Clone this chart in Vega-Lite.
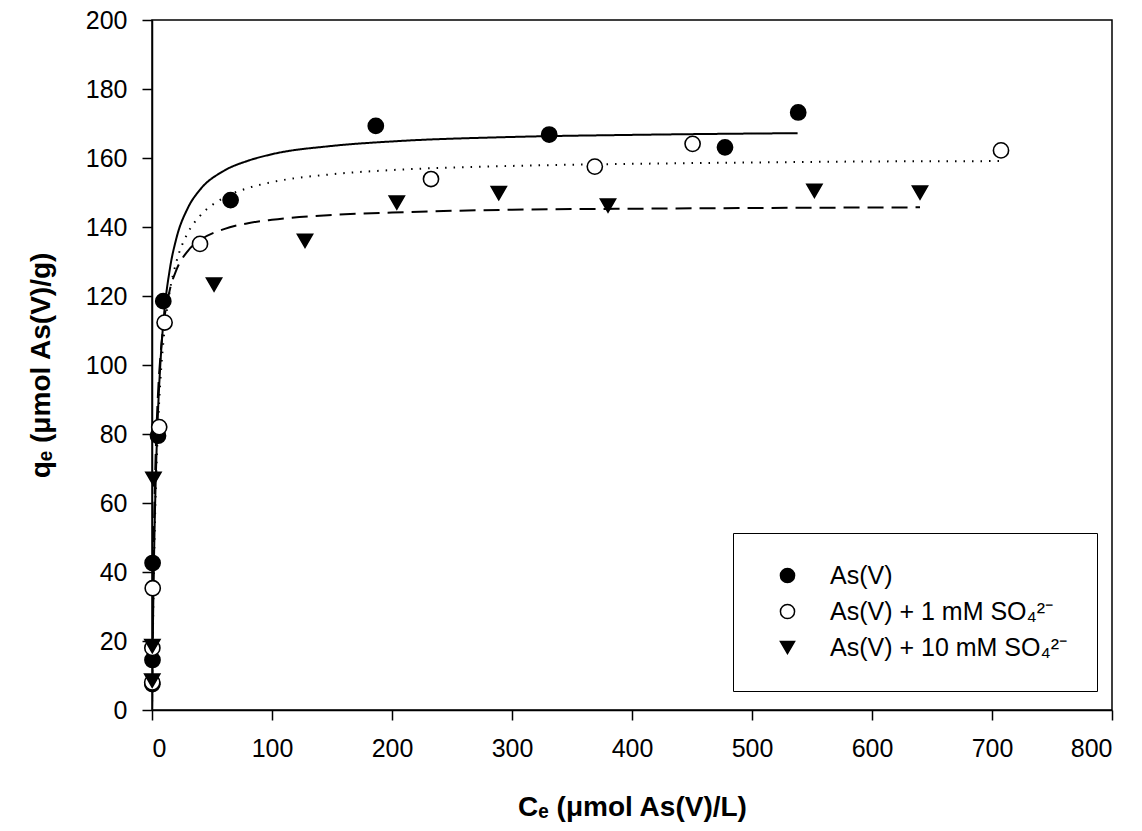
{
  "$schema": "https://vega.github.io/schema/vega-lite/v6.json",
  "autosize": {"type": "none"},
  "padding": {"left": 152, "top": 20, "right": 30, "bottom": 121},
  "width": 960,
  "height": 690,
  "background": "white",
  "config": {
    "font": "Liberation Sans",
    "view": {"stroke": "black", "strokeWidth": 1.5},
    "axis": {
      "domainColor": "black", "domainWidth": 1.5,
      "tickColor": "black", "tickWidth": 1.5, "tickSize": 10,
      "labelColor": "black", "labelFont": "Liberation Sans", "labelFontSize": 25,
      "titleColor": "black", "titleFont": "Liberation Sans", "titleFontSize": 28, "titleFontWeight": "bold",
      "grid": false
    },
    "legend": {
      "orient": "none", "legendX": 581, "legendY": 513,
      "strokeColor": "black", "fillColor": "white", "padding": 30,
      "labelFontSize": 25, "labelFont": "Liberation Sans", "labelColor": "black",
      "symbolSize": 200, "symbolStrokeWidth": 1.5,
      "rowPadding": 10, "labelOffset": 30, "symbolOffset": 12, "labelLimit": 400
    }
  },
  "datasets": {
    "points": [
      {"series": "As(V)", "C": 0.3, "q": 7.5},
      {"series": "As(V)", "C": 0.4, "q": 14.5},
      {"series": "As(V)", "C": 0.5, "q": 42.6},
      {"series": "As(V)", "C": 5, "q": 79.5},
      {"series": "As(V)", "C": 9.4, "q": 118.5},
      {"series": "As(V)", "C": 65.5, "q": 147.8},
      {"series": "As(V)", "C": 186.5, "q": 169.3},
      {"series": "As(V)", "C": 331, "q": 166.8},
      {"series": "As(V)", "C": 477.5, "q": 163.1},
      {"series": "As(V)", "C": 538.5, "q": 173.2},
      {"series": "As(V) + 1 mM SO₄²⁻", "C": 0.2, "q": 8},
      {"series": "As(V) + 1 mM SO₄²⁻", "C": 0.3, "q": 18},
      {"series": "As(V) + 1 mM SO₄²⁻", "C": 0.6, "q": 35.3},
      {"series": "As(V) + 1 mM SO₄²⁻", "C": 6, "q": 82},
      {"series": "As(V) + 1 mM SO₄²⁻", "C": 10.5, "q": 112.3},
      {"series": "As(V) + 1 mM SO₄²⁻", "C": 40, "q": 135.1},
      {"series": "As(V) + 1 mM SO₄²⁻", "C": 232.5, "q": 153.9},
      {"series": "As(V) + 1 mM SO₄²⁻", "C": 369, "q": 157.5},
      {"series": "As(V) + 1 mM SO₄²⁻", "C": 450.5, "q": 164.1},
      {"series": "As(V) + 1 mM SO₄²⁻", "C": 707.5, "q": 162.2},
      {"series": "As(V) + 10 mM SO₄²⁻", "C": 0.2, "q": 8.5},
      {"series": "As(V) + 10 mM SO₄²⁻", "C": 0.3, "q": 18.5},
      {"series": "As(V) + 10 mM SO₄²⁻", "C": 1.2, "q": 67},
      {"series": "As(V) + 10 mM SO₄²⁻", "C": 51.7, "q": 123.3},
      {"series": "As(V) + 10 mM SO₄²⁻", "C": 127.5, "q": 136},
      {"series": "As(V) + 10 mM SO₄²⁻", "C": 204, "q": 147.1},
      {"series": "As(V) + 10 mM SO₄²⁻", "C": 289, "q": 149.8},
      {"series": "As(V) + 10 mM SO₄²⁻", "C": 380, "q": 146.2},
      {"series": "As(V) + 10 mM SO₄²⁻", "C": 552, "q": 150.5},
      {"series": "As(V) + 10 mM SO₄²⁻", "C": 640, "q": 150}
    ],
    "curves": [
      {"fit": "A", "C": 0, "q": 0},
      {"fit": "A", "C": 0.5, "q": 16.1},
      {"fit": "A", "C": 1, "q": 29.3},
      {"fit": "A", "C": 2, "q": 50.0},
      {"fit": "A", "C": 3, "q": 65.3},
      {"fit": "A", "C": 5, "q": 86.5},
      {"fit": "A", "C": 7, "q": 100.5},
      {"fit": "A", "C": 10, "q": 114.4},
      {"fit": "A", "C": 15, "q": 128.1},
      {"fit": "A", "C": 20, "q": 136.3},
      {"fit": "A", "C": 30, "q": 145.6},
      {"fit": "A", "C": 40, "q": 150.8},
      {"fit": "A", "C": 60, "q": 156.3},
      {"fit": "A", "C": 80, "q": 159.2},
      {"fit": "A", "C": 100, "q": 161.1},
      {"fit": "A", "C": 150, "q": 163.5},
      {"fit": "A", "C": 200, "q": 164.8},
      {"fit": "A", "C": 300, "q": 166.1},
      {"fit": "A", "C": 400, "q": 166.7},
      {"fit": "A", "C": 538, "q": 167.2},
      {"fit": "B", "C": 0, "q": 0},
      {"fit": "B", "C": 0.5, "q": 15.3},
      {"fit": "B", "C": 1, "q": 27.9},
      {"fit": "B", "C": 2, "q": 47.6},
      {"fit": "B", "C": 3, "q": 62.1},
      {"fit": "B", "C": 5, "q": 82.3},
      {"fit": "B", "C": 7, "q": 95.6},
      {"fit": "B", "C": 10, "q": 108.7},
      {"fit": "B", "C": 15, "q": 121.8},
      {"fit": "B", "C": 20, "q": 129.5},
      {"fit": "B", "C": 30, "q": 138.4},
      {"fit": "B", "C": 40, "q": 143.2},
      {"fit": "B", "C": 60, "q": 148.5},
      {"fit": "B", "C": 80, "q": 151.3},
      {"fit": "B", "C": 100, "q": 153.0},
      {"fit": "B", "C": 150, "q": 155.3},
      {"fit": "B", "C": 200, "q": 156.5},
      {"fit": "B", "C": 300, "q": 157.7},
      {"fit": "B", "C": 400, "q": 158.3},
      {"fit": "B", "C": 500, "q": 158.7},
      {"fit": "B", "C": 600, "q": 159.0},
      {"fit": "B", "C": 707, "q": 159.1},
      {"fit": "C", "C": 0, "q": 0},
      {"fit": "C", "C": 0.5, "q": 21.0},
      {"fit": "C", "C": 1, "q": 36.7},
      {"fit": "C", "C": 2, "q": 58.6},
      {"fit": "C", "C": 3, "q": 73.3},
      {"fit": "C", "C": 5, "q": 91.6},
      {"fit": "C", "C": 7, "q": 102.5},
      {"fit": "C", "C": 10, "q": 112.7},
      {"fit": "C", "C": 15, "q": 122.0},
      {"fit": "C", "C": 20, "q": 127.3},
      {"fit": "C", "C": 30, "q": 133.1},
      {"fit": "C", "C": 40, "q": 136.2},
      {"fit": "C", "C": 60, "q": 139.4},
      {"fit": "C", "C": 80, "q": 141.1},
      {"fit": "C", "C": 100, "q": 142.1},
      {"fit": "C", "C": 150, "q": 143.5},
      {"fit": "C", "C": 200, "q": 144.2},
      {"fit": "C", "C": 300, "q": 145.0},
      {"fit": "C", "C": 400, "q": 145.3},
      {"fit": "C", "C": 500, "q": 145.5},
      {"fit": "C", "C": 640, "q": 145.7}
    ]
  },
  "encoding": {
    "x": {
      "field": "C", "type": "quantitative",
      "scale": {"domain": [0, 800], "nice": false, "zero": false},
      "axis": {"values": [0, 100, 200, 300, 400, 500, 600, 700, 800], "format": "d", "labelPadding": 16, "titlePadding": 32, "title": "Cₑ (μmol As(V)/L)"}
    },
    "y": {
      "field": "q", "type": "quantitative",
      "scale": {"domain": [0, 200], "nice": false},
      "axis": {"values": [0, 20, 40, 60, 80, 100, 120, 140, 160, 180, 200], "format": "d", "labelPadding": 15, "titlePadding": 30, "title": "qₑ (μmol As(V)/g)"}
    }
  },
  "layer": [
    {
      "data": {"name": "curves"},
      "mark": {"type": "line", "color": "black", "strokeWidth": 2, "interpolate": "monotone", "clip": true},
      "encoding": {
        "strokeDash": {
          "field": "fit", "type": "nominal",
          "scale": {"domain": ["A", "B", "C"], "range": [[1, 0], [1.5, 7], [16, 8]]},
          "legend": null
        }
      }
    },
    {
      "data": {"name": "points"},
      "mark": {"type": "point", "size": 230, "strokeWidth": 1.6, "opacity": 1, "fillOpacity": 1, "strokeOpacity": 1},
      "encoding": {
        "shape": {
          "field": "series", "type": "nominal",
          "scale": {"domain": ["As(V)", "As(V) + 1 mM SO₄²⁻", "As(V) + 10 mM SO₄²⁻"], "range": ["circle", "circle", "triangle-down"]},
          "legend": {"title": null}
        },
        "fill": {
          "field": "series", "type": "nominal",
          "scale": {"domain": ["As(V)", "As(V) + 1 mM SO₄²⁻", "As(V) + 10 mM SO₄²⁻"], "range": ["black", "white", "black"]},
          "legend": {"title": null}
        },
        "stroke": {
          "field": "series", "type": "nominal",
          "scale": {"domain": ["As(V)", "As(V) + 1 mM SO₄²⁻", "As(V) + 10 mM SO₄²⁻"], "range": ["black", "black", "black"]},
          "legend": {"title": null}
        }
      }
    }
  ]
}
